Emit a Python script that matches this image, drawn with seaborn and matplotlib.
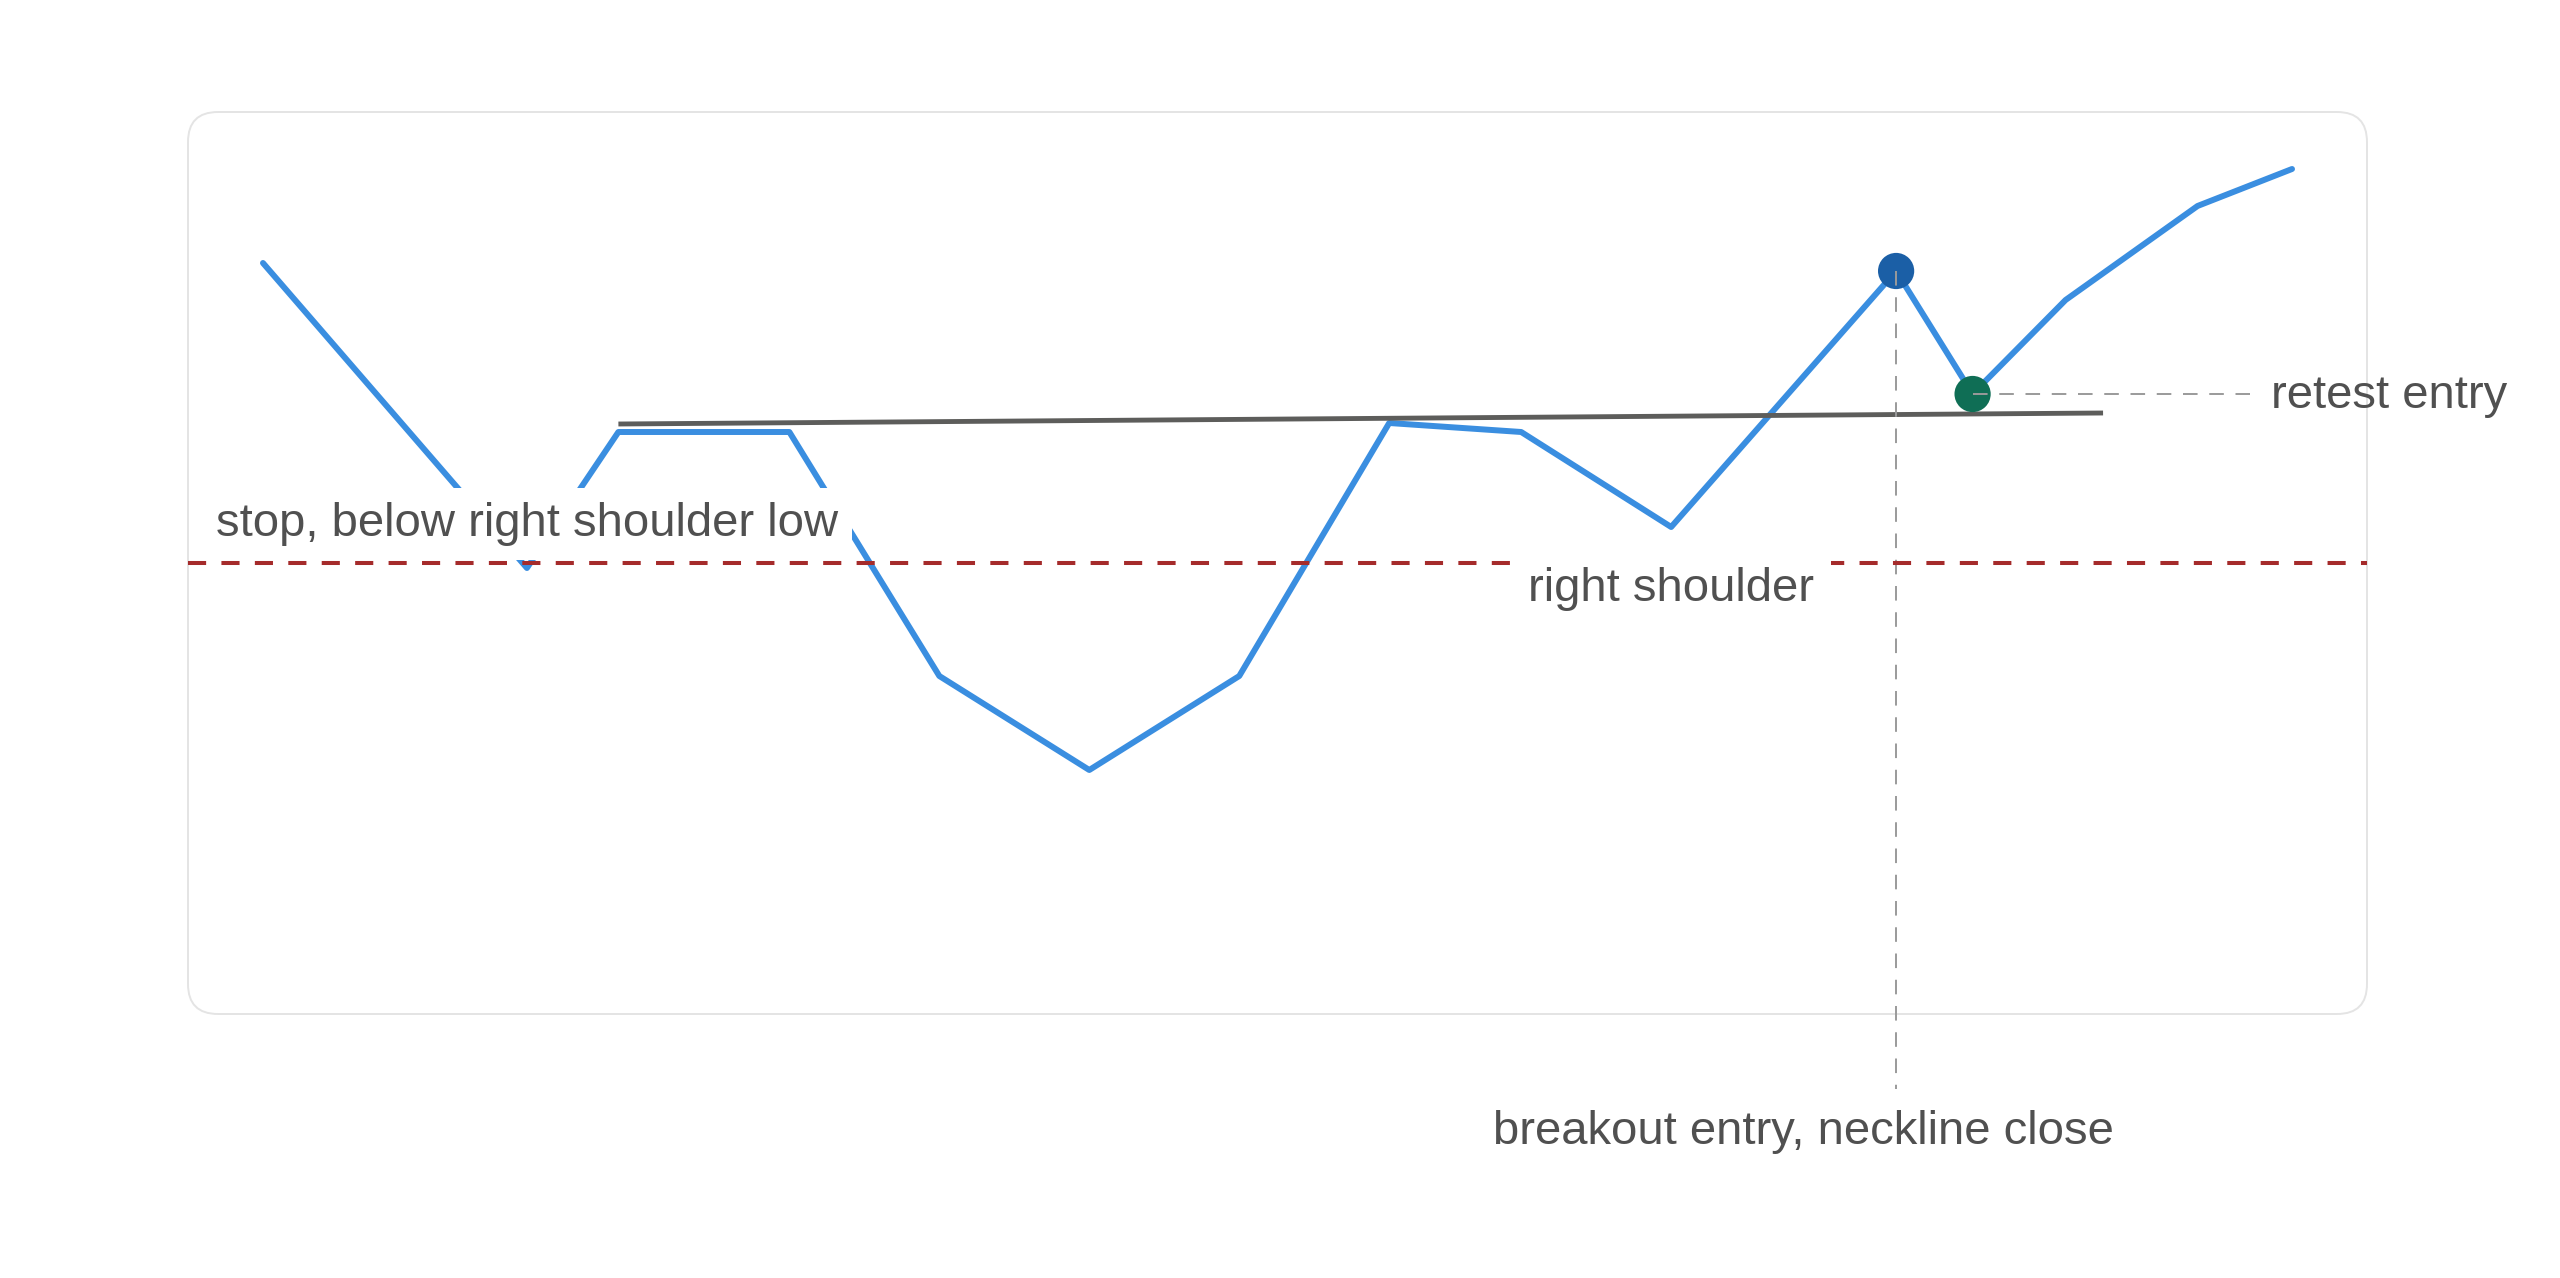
import numpy as np
import pandas as pd
import matplotlib
matplotlib.use("Agg")
import matplotlib.pyplot as plt
import seaborn as sns
from matplotlib.patches import FancyBboxPatch
from matplotlib.transforms import IdentityTransform

# price path (x = trading session, y = price)
days = [0, 1.76, 2.37, 3.51, 4.51, 5.51, 6.51, 7.51, 8.39, 9.39, 10.89, 11.40, 12.02, 12.90, 13.53]
price = [115.9, 85.4, 99.0, 99.0, 74.6, 65.2, 74.6, 99.9, 99.0, 89.5, 115.1, 102.8, 112.2, 121.6, 125.3]

neck_x = [2.37, 12.27]
neck_y = [99.8, 100.9]
stop_level = 85.9

breakout_idx = 10
retest_idx = 11
shoulder_idx = 9
stop_idx = 1

lbl_stop = "stop, below right shoulder low"
lbl_shoulder = "right shoulder"
lbl_breakout = "breakout entry, neckline close"
lbl_retest = "retest entry"

df = pd.DataFrame({"day": days, "price": price})

sns.set_theme(style="white")
plt.rcParams["font.family"] = ["Liberation Sans", "DejaVu Sans"]

fig = plt.figure(figsize=(25.6, 12.78), dpi=100)
ax = fig.add_axes([188 / 2560, 264 / 1278, 2179 / 2560, 902 / 1278])
ax.set_xlim(-0.5, 14.03)
ax.set_ylim(40.8, 131.0)
ax.axis("off")
ax.patch.set_alpha(0)

# rounded card behind the plot
card = FancyBboxPatch((188, 264), 2179, 902, boxstyle="round,pad=0,rounding_size=30",
                      transform=IdentityTransform(), fc="white", ec="#e4e4e4", lw=1.4, zorder=-5)
fig.patches.append(card)

txt_color = "#505050"
fs = 34

sns.lineplot(data=df, x="day", y="price", ax=ax, color="#3a8ee0", lw=4.3, zorder=2,
             sort=False, legend=False)
ax.plot(neck_x, neck_y, color="#5d5d5b", lw=3.5, zorder=3, solid_capstyle="butt")

pts = df.iloc[[breakout_idx, retest_idx]].assign(kind=["breakout", "retest"])
sns.scatterplot(data=pts, x="day", y="price", hue="kind", palette=["#1b5fa6", "#0f6e55"],
                s=680, linewidth=0, ax=ax, zorder=4, legend=False)

# stop line
ax.axhline(stop_level, color="#a52b2b", lw=2.9, dashes=(4.5, 3.8), zorder=6)

# breakout guide
bx, by = days[breakout_idx], price[breakout_idx]
ax.plot([bx, bx], [by, 33.3], color="#9a9a9a", lw=1.4, dashes=(7.5, 6), zorder=5, clip_on=False)
ax.text(bx - 0.62, 29.0, lbl_breakout, ha="center", va="center", fontsize=fs, color=txt_color)

# retest guide
rx, ry = days[retest_idx], price[retest_idx]
ax.plot([rx, 13.25], [ry, ry], color="#9a9a9a", lw=1.4, dashes=(7.5, 6), zorder=5)
ax.text(13.39, ry - 0.2, lbl_retest, ha="left", va="center", fontsize=fs, color=txt_color, clip_on=False)

# labels with white boxes
ax.text(days[stop_idx], 89.8, lbl_stop, ha="center", va="center", fontsize=fs, color=txt_color,
        zorder=5, bbox=dict(boxstyle="square,pad=0.3", fc="white", ec="none"))
ax.text(days[shoulder_idx], 83.3, lbl_shoulder, ha="center", va="center", fontsize=fs, color=txt_color,
        zorder=7, bbox=dict(boxstyle="square,pad=0.35", fc="white", ec="none"))

fig.savefig("out.png", dpi=100, facecolor="white")
